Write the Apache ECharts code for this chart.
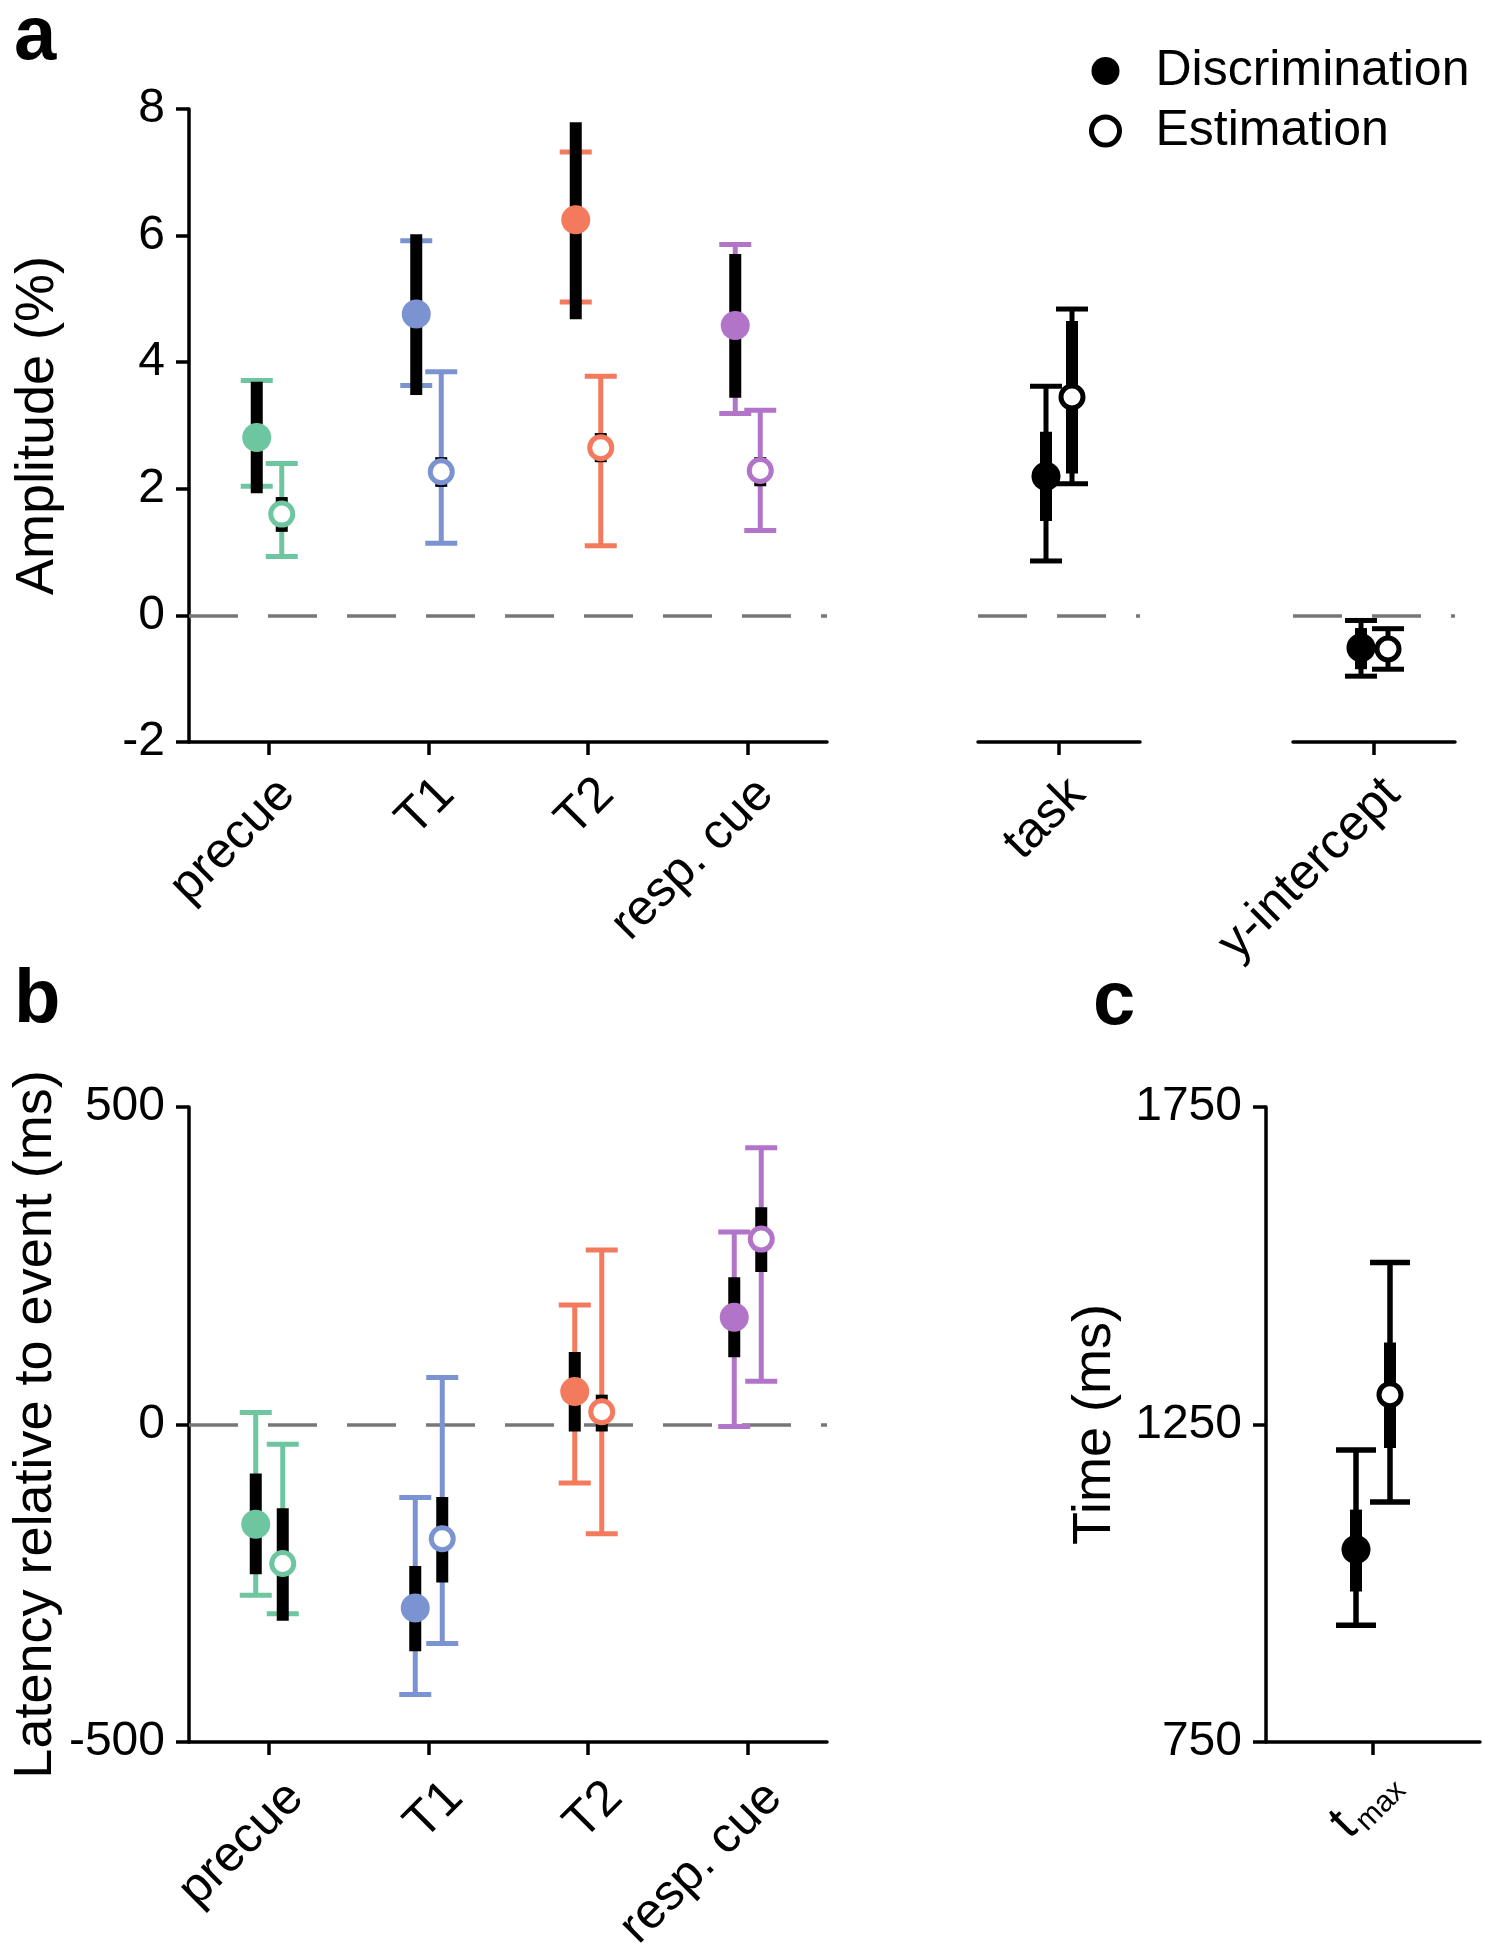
<!DOCTYPE html>
<html>
<head>
<meta charset="utf-8">
<script src="https://cdn.jsdelivr.net/npm/echarts@6/dist/echarts.min.js"></script>
<style>
html,body{margin:0;padding:0;background:#fff;}
#chart{width:1492px;height:1950px;}
</style>
</head>
<body>
<div id="chart"></div>
<script>
// ---------------- DATA ----------------
const eventCats = ['precue', 'T1', 'T2', 'resp. cue'];
const taskCats = ['task'];
const interceptCats = ['y-intercept'];
const tmaxCats = ['tmax'];

const ampTicks = [-2, 0, 2, 4, 6, 8];
const latTicks = [-500, 0, 500];
const timeTicks = [750, 1250, 1750];

// Panel a: amplitude (%)
const ampDiscMean  = [2.81, 4.76, 6.25, 4.58];
const ampDiscThick = [[1.93, 3.69], [3.48, 6.02], [4.68, 7.79], [3.44, 5.71]];
const ampDiscThin  = [[2.04, 3.71], [3.63, 5.92], [4.95, 7.32], [3.19, 5.86]];
const ampEstMean   = [1.60, 2.27, 2.65, 2.29];
const ampEstThick  = [[1.32, 1.87], [2.03, 2.50], [2.42, 2.88], [2.04, 2.50]];
const ampEstThin   = [[0.93, 2.40], [1.14, 3.85], [1.10, 3.78], [1.34, 3.24]];

const taskDiscMean = [2.20];
const taskDiscThick = [[1.49, 2.90]];
const taskDiscThin = [[0.86, 3.62]];
const taskEstMean = [3.45];
const taskEstThick = [[2.24, 4.65]];
const taskEstThin = [[2.08, 4.84]];

const icptDiscMean = [-0.51];
const icptDiscThick = [[-0.85, -0.20]];
const icptDiscThin = [[-0.96, -0.08]];
const icptEstMean = [-0.53];
const icptEstThick = [[-0.72, -0.36]];
const icptEstThin = [[-0.85, -0.21]];

// Panel b: latency relative to event (ms)
const latDiscMean  = [-157, -289, 52, 169];
const latDiscThick = [[-236, -77], [-357, -223], [-11, 114], [106, 232]];
const latDiscThin  = [[-269, 19], [-425, -115], [-92, 188], [-3, 303]];
const latEstMean   = [-219, -180, 20, 292];
const latEstThick  = [[-309, -132], [-249, -114], [-11, 47], [240, 342]];
const latEstThin   = [[-298, -31], [-345, 74], [-172, 275], [68, 436]];

// Panel c: t_max (ms)
const tmaxDiscMean = [1053];
const tmaxDiscThick = [[987, 1116]];
const tmaxDiscThin = [[934, 1210]];
const tmaxEstMean = [1297];
const tmaxEstThick = [[1213, 1379]];
const tmaxEstThin = [[1128, 1505]];

// ---------------- STYLE ----------------
const FONT = "'Liberation Sans', Arial, Helvetica, sans-serif";
const eventColors = ['#6dc6a0', '#7b93d0', '#f47a5e', '#b274c8'];
const AXW = 3.5;

function rows(mean, thick, thin) {
  return mean.map((m, i) => [i, m, thick[i][0], thick[i][1], thin[i][0], thin[i][1]]);
}

function makeRender(o) {
  return function (params, api) {
    const i = api.value(0);
    const col = o.colors ? o.colors[i] : '#000';
    const p = api.coord([i, api.value(1)]);
    const x = p[0] + o.offset;
    const y = p[1];
    const tkLo = api.coord([i, api.value(2)])[1];
    const tkHi = api.coord([i, api.value(3)])[1];
    const tnLo = api.coord([i, api.value(4)])[1];
    const tnHi = api.coord([i, api.value(5)])[1];
    const hc = o.halfCap;
    const lw = o.thinW;
    const children = [
      {type: 'line', shape: {x1: x, y1: tnLo, x2: x, y2: tnHi}, style: {stroke: col, lineWidth: lw}},
      {type: 'line', shape: {x1: x - hc, y1: tnLo, x2: x + hc, y2: tnLo}, style: {stroke: col, lineWidth: lw}},
      {type: 'line', shape: {x1: x - hc, y1: tnHi, x2: x + hc, y2: tnHi}, style: {stroke: col, lineWidth: lw}},
      {type: 'rect', shape: {x: x - o.thickW / 2, y: tkHi, width: o.thickW, height: tkLo - tkHi}, style: {fill: '#000'}},
      o.open
        ? {type: 'circle', shape: {cx: x, cy: y, r: 11}, style: {fill: '#fff', stroke: col, lineWidth: 5}}
        : {type: 'circle', shape: {cx: x, cy: y, r: 14.5}, style: {fill: col}}
    ];
    return {type: 'group', children: children};
  };
}

const zeroLine = {
  silent: true,
  symbol: ['none', 'none'],
  z: 1,
  label: {show: false},
  lineStyle: {type: [49, 30], color: '#777', width: 3.5},
  emphasis: {disabled: true},
  animation: false,
  data: [{yAxis: 0}]
};

function series(name, idx, data, o, withZero) {
  const s = {
    type: 'custom',
    name: name,
    xAxisIndex: idx,
    yAxisIndex: idx,
    z: 3,
    animation: false,
    renderItem: makeRender(o),
    encode: {x: 0, y: 1},
    data: data
  };
  if (withZero) s.markLine = zeroLine;
  return s;
}

function xAxis(idx, cats, margin, pad, extraLabel) {
  return {
    type: 'category',
    gridIndex: idx,
    data: cats,
    boundaryGap: true,
    axisLine: {show: true, onZero: false, lineStyle: {color: '#000', width: AXW}},
    axisTick: {show: true, interval: 0, alignWithLabel: true, length: 13, lineStyle: {color: '#000', width: AXW}},
    axisLabel: Object.assign({
      show: true, rotate: 45, fontSize: 50, fontFamily: FONT, color: '#000',
      margin: margin, padding: [0, pad, 0, 0], interval: 0
    }, extraLabel || {}),
    splitLine: {show: false}
  };
}

function yAxis(idx, min, max, interval, show, name, nameGap) {
  return {
    type: 'value',
    gridIndex: idx,
    min: min, max: max, interval: interval,
    show: show,
    name: name,
    nameLocation: 'middle',
    nameRotate: 90,
    nameGap: nameGap,
    nameTextStyle: {fontSize: 54, fontFamily: FONT, color: '#000'},
    axisLine: {show: true, onZero: false, lineStyle: {color: '#000', width: AXW}},
    axisTick: {show: true, length: 13, lineStyle: {color: '#000', width: AXW}},
    axisLabel: {fontSize: 48, fontFamily: FONT, color: '#000', margin: 24, formatter: v => String(v)},
    splitLine: {show: false}
  };
}

const catOpt = {halfCap: 16, thinW: 5, thickW: 12};

function grid(left, top, width, height) {
  return {left: left, top: top, width: width, height: height, containLabel: false, outerBoundsMode: 'none'};
}

const option = {
  backgroundColor: '#fff',
  animation: false,
  textStyle: {fontFamily: FONT},
  legend: {
    orient: 'vertical',
    left: 1089,
    top: 46,
    padding: 0,
    itemWidth: 28,
    itemHeight: 28,
    itemGap: 10,
    selectedMode: false,
    textStyle: {fontSize: 50, fontFamily: FONT, color: '#000', lineHeight: 50, padding: [0, 0, 0, 31]},
    data: [
      {name: 'Discrimination', icon: 'circle', itemStyle: {color: '#000', borderWidth: 0}},
      {name: 'Estimation', icon: 'circle', itemStyle: {color: '#fff', borderColor: '#000', borderWidth: 5}}
    ]
  },
  grid: [
    grid(189, 109, 638, 633),
    grid(978, 109, 162, 633),
    grid(1293, 109, 162, 633),
    grid(189, 1107, 638, 635),
    grid(1266, 1107, 214, 635)
  ],
  xAxis: [
    xAxis(0, eventCats, 63, -26),
    xAxis(1, taskCats, 63, -26),
    xAxis(2, interceptCats, 63, -26),
    xAxis(3, eventCats, 75, -38),
    xAxis(4, tmaxCats, 54, -27, {
      formatter: v => v === 'tmax' ? '{t|t}{s|max}' : v,
      rich: {
        t: {fontSize: 52, fontFamily: FONT, color: '#000'},
        s: {fontSize: 30, fontFamily: FONT, color: '#000', padding: [26, 0, 0, 4]}
      }
    })
  ],
  yAxis: [
    yAxis(0, ampTicks[0], ampTicks[ampTicks.length - 1], 2, true, 'Amplitude (%)', 124),
    yAxis(1, ampTicks[0], ampTicks[ampTicks.length - 1], 2, false, '', 0),
    yAxis(2, ampTicks[0], ampTicks[ampTicks.length - 1], 2, false, '', 0),
    yAxis(3, latTicks[0], latTicks[latTicks.length - 1], 500, true, 'Latency relative to event (ms)', 126),
    yAxis(4, timeTicks[0], timeTicks[timeTicks.length - 1], 500, true, 'Time (ms)', 144)
  ],
  series: [
    series('Discrimination', 0, rows(ampDiscMean, ampDiscThick, ampDiscThin),
      Object.assign({offset: -12, open: false, colors: eventColors}, catOpt), true),
    series('Estimation', 0, rows(ampEstMean, ampEstThick, ampEstThin),
      Object.assign({offset: 13, open: true, colors: eventColors}, catOpt), false),
    series('Discrimination', 1, rows(taskDiscMean, taskDiscThick, taskDiscThin),
      Object.assign({offset: -13, open: false, colors: null}, catOpt), true),
    series('Estimation', 1, rows(taskEstMean, taskEstThick, taskEstThin),
      Object.assign({offset: 13, open: true, colors: null}, catOpt), false),
    series('Discrimination', 2, rows(icptDiscMean, icptDiscThick, icptDiscThin),
      Object.assign({offset: -13, open: false, colors: null}, catOpt), true),
    series('Estimation', 2, rows(icptEstMean, icptEstThick, icptEstThin),
      Object.assign({offset: 14, open: true, colors: null}, catOpt), false),
    series('Discrimination', 3, rows(latDiscMean, latDiscThick, latDiscThin),
      Object.assign({offset: -13, open: false, colors: eventColors}, catOpt), true),
    series('Estimation', 3, rows(latEstMean, latEstThick, latEstThin),
      Object.assign({offset: 14, open: true, colors: eventColors}, catOpt), false),
    series('Discrimination', 4, rows(tmaxDiscMean, tmaxDiscThick, tmaxDiscThin),
      {offset: -17, open: false, colors: null, halfCap: 20, thinW: 5.5, thickW: 12}, false),
    series('Estimation', 4, rows(tmaxEstMean, tmaxEstThick, tmaxEstThin),
      {offset: 17, open: true, colors: null, halfCap: 20, thinW: 5.5, thickW: 12}, false)
  ],
  graphic: [
    {type: 'text', left: 14, top: 0, style: {text: 'a', font: "bold 76px " + FONT, fill: '#000'}},
    {type: 'text', left: 14, top: 963, style: {text: 'b', font: "bold 76px " + FONT, fill: '#000'}},
    {type: 'text', left: 1093, top: 965, style: {text: 'c', font: "bold 76px " + FONT, fill: '#000'}}
  ]
};

const chart = echarts.init(document.getElementById('chart'), null, {renderer: 'canvas'});
chart.setOption(option);
</script>
</body>
</html>
